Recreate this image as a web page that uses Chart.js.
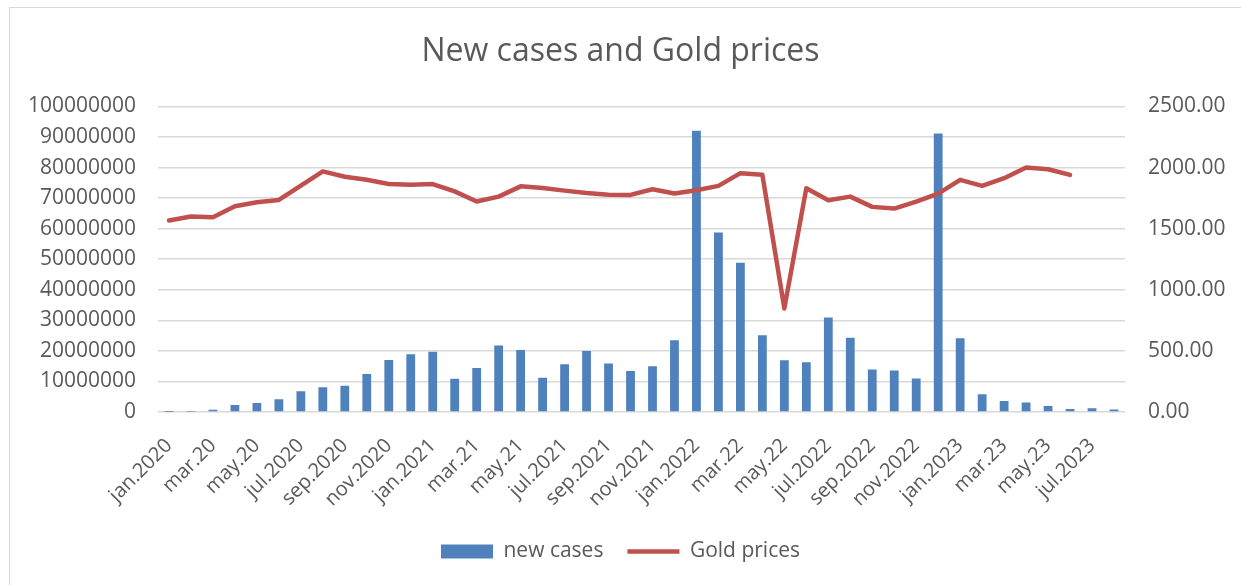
<!DOCTYPE html>
<html>
<head>
<meta charset="utf-8">
<script src="https://cdn.jsdelivr.net/npm/chart.js@4"></script>
<style>
  html, body { margin: 0; padding: 0; background: #fff; }
  #frame { position: absolute; left: 9px; top: 7px; width: 1260px; height: 620px; border: 1px solid #d9d9d9; }
  #wrap { position: absolute; left: 0; top: 0; width: 1241px; height: 585px; }
</style>
</head>
<body>
<div id="frame"></div>
<div id="wrap"><canvas id="chart1"></canvas></div>
<script>
const months = [
  'jan.2020', 'feb.20', 'mar.20', 'apr.20', 'may.20', 'jun.20',
  'jul.2020', 'aug.2020', 'sep.2020', 'oct.2020', 'nov.2020', 'dec.2020',
  'jan.2021', 'feb.21', 'mar.21', 'apr.21', 'may.21', 'jun.21',
  'jul.2021', 'aug.2021', 'sep.2021', 'oct.2021', 'nov.2021', 'dec.2021',
  'jan.2022', 'feb.22', 'mar.22', 'apr.22', 'may.22', 'jun.22',
  'jul.2022', 'aug.2022', 'sep.2022', 'oct.2022', 'nov.2022', 'dec.2022',
  'jan.2023', 'feb.23', 'mar.23', 'apr.23', 'may.23', 'jun.23',
  'jul.2023', 'aug.2023'
];

const newCases = [
  9800, 76000, 720000, 2300000, 2960000, 4200000,
  6800000, 8100000, 8600000, 12400000, 17000000, 18900000,
  19700000, 10900000, 14400000, 21800000, 20300000, 11200000,
  15600000, 20000000, 15900000, 13400000, 15000000, 23500000,
  92000000, 58700000, 48800000, 25100000, 16900000, 16300000,
  30900000, 24300000, 13900000, 13600000, 11000000, 91100000,
  24100000, 5800000, 3600000, 3100000, 2000000, 1000000,
  1200000, 800000
];

const goldPrices = [
  1567, 1600, 1594, 1683, 1716, 1735,
  1851, 1968, 1925, 1900, 1865, 1860,
  1865, 1805, 1722, 1762, 1846, 1833,
  1811, 1792, 1778, 1776, 1822, 1787,
  1814, 1850, 1954, 1940, 847, 1831,
  1732, 1762, 1678, 1664, 1721, 1787,
  1899, 1850, 1913, 2000, 1986, 1940,
  null, null
];

const textColor = '#595959';
const gridColor = '#d9d9d9';
const fontFamily = '"Open Sans", "Liberation Sans", sans-serif';

const chart1 = new Chart('chart1', {
  type: 'bar',
  data: {
    labels: months,
    datasets: [
      {
        label: 'new cases',
        data: newCases,
        backgroundColor: '#4f81bd',
        borderWidth: 0,
        barPercentage: 0.4,
        categoryPercentage: 1,
        pointStyle: 'rect',
        yAxisID: 'y',
        order: 2
      },
      {
        type: 'line',
        label: 'Gold prices',
        data: goldPrices,
        borderColor: '#c0504d',
        backgroundColor: '#c0504d',
        borderWidth: 4.5,
        borderCapStyle: 'round',
        borderJoinStyle: 'round',
        pointRadius: 0,
        pointStyle: 'line',
        tension: 0,
        yAxisID: 'y1',
        order: 1
      }
    ]
  },
  options: {
    responsive: true,
    maintainAspectRatio: false,
    animation: false,
    layout: { padding: { left: 0, right: 0, top: 0, bottom: 13 } },
    plugins: {
      title: {
        display: true,
        text: 'New cases and Gold prices',
        color: textColor,
        font: { family: fontFamily, size: 32, weight: 'normal' },
        padding: { top: 33, bottom: 35 }
      },
      legend: {
        display: true,
        position: 'bottom',
        labels: {
          color: textColor,
          font: { family: fontFamily, size: 21 },
          usePointStyle: true,
          pointStyleWidth: 52,
          boxHeight: 14,
          padding: 24,
          sort: (a, b) => a.datasetIndex - b.datasetIndex
        }
      },
      tooltip: { enabled: false }
    },
    scales: {
      x: {
        grid: { display: false },
        border: { display: false },
        ticks: {
          autoSkip: false,
          minRotation: 45,
          maxRotation: 45,
          padding: 14,
          color: textColor,
          font: { family: fontFamily, size: 20 },
          callback: function(value, index) {
            return index % 2 === 0 ? this.getLabelForValue(value) : '';
          }
        },
        afterFit: scale => { scale.height = 105; }
      },
      y: {
        position: 'left',
        min: 0,
        max: 100000000,
        grid: { color: gridColor, lineWidth: 1.5, drawTicks: false },
        border: { display: false },
        ticks: {
          stepSize: 10000000,
          padding: 22,
          color: textColor,
          font: { family: fontFamily, size: 21 },
          callback: v => String(Math.round(v))
        },
        afterFit: scale => { scale.width = 158; }
      },
      y1: {
        position: 'right',
        min: 0,
        max: 2500,
        grid: { drawOnChartArea: false, drawTicks: false },
        border: { display: false },
        ticks: {
          stepSize: 500,
          padding: 23,
          color: textColor,
          font: { family: fontFamily, size: 21 },
          callback: v => Number(v).toFixed(2)
        },
        afterFit: scale => { scale.width = 116; }
      }
    }
  }
});
</script>
</body>
</html>
